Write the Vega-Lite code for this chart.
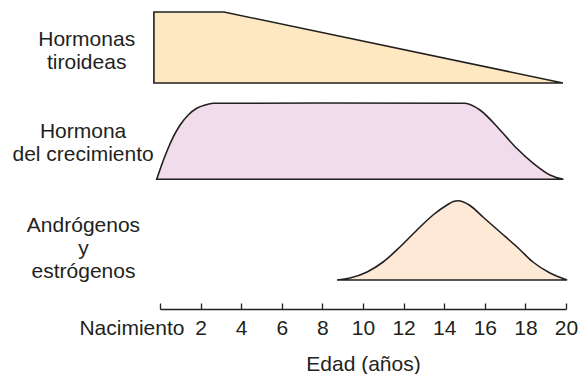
{
  "$schema": "https://vega.github.io/schema/vega-lite/v6.json",
  "autosize": "none",
  "width": 406,
  "height": 280,
  "padding": {"left": 160, "top": 0, "right": 19, "bottom": 94},
  "background": "white",
  "config": {"view": {"stroke": null}, "font": "Liberation Sans"},
  "datasets": {
    "tiroideas": [
      {"edad": -0.3, "nivel": 26.8, "base": 19.7},
      {"edad": 3.15, "nivel": 26.8, "base": 19.7},
      {"edad": 19.85, "nivel": 19.7, "base": 19.7}
    ],
    "crecimiento": [
      {"edad": -0.16, "nivel": 10.07, "base": 10.07},
      {"edad": 0.08, "nivel": 11.5, "base": 10.07},
      {"edad": 0.33, "nivel": 12.83, "base": 10.07},
      {"edad": 0.66, "nivel": 14.33, "base": 10.07},
      {"edad": 0.99, "nivel": 15.5, "base": 10.07},
      {"edad": 1.39, "nivel": 16.5, "base": 10.07},
      {"edad": 1.81, "nivel": 17.17, "base": 10.07},
      {"edad": 2.22, "nivel": 17.5, "base": 10.07},
      {"edad": 2.63, "nivel": 17.67, "base": 10.07},
      {"edad": 8.0, "nivel": 17.7, "base": 10.07},
      {"edad": 15.02, "nivel": 17.67, "base": 10.07},
      {"edad": 15.76, "nivel": 17.0, "base": 10.07},
      {"edad": 16.75, "nivel": 15.0, "base": 10.07},
      {"edad": 17.57, "nivel": 13.17, "base": 10.07},
      {"edad": 18.39, "nivel": 11.67, "base": 10.07},
      {"edad": 19.21, "nivel": 10.5, "base": 10.07},
      {"edad": 19.87, "nivel": 10.07, "base": 10.07}
    ],
    "sexuales": [
      {"edad": 8.72, "nivel": 0, "base": 0},
      {"edad": 9.36, "nivel": 0.2, "base": 0},
      {"edad": 10.2, "nivel": 0.8, "base": 0},
      {"edad": 10.99, "nivel": 1.8, "base": 0},
      {"edad": 11.82, "nivel": 3.3, "base": 0},
      {"edad": 12.66, "nivel": 5.0, "base": 0},
      {"edad": 13.45, "nivel": 6.5, "base": 0},
      {"edad": 14.14, "nivel": 7.5, "base": 0},
      {"edad": 14.45, "nivel": 7.85, "base": 0},
      {"edad": 14.68, "nivel": 7.92, "base": 0},
      {"edad": 14.95, "nivel": 7.8, "base": 0},
      {"edad": 15.27, "nivel": 7.45, "base": 0},
      {"edad": 15.91, "nivel": 6.3, "base": 0},
      {"edad": 16.75, "nivel": 4.8, "base": 0},
      {"edad": 17.59, "nivel": 3.3, "base": 0},
      {"edad": 18.37, "nivel": 1.8, "base": 0},
      {"edad": 19.21, "nivel": 0.7, "base": 0},
      {"edad": 20.05, "nivel": 0, "base": 0}
    ],
    "etiquetas": [
      {"edad": -3.61, "nivel": 23.4, "texto": "Hormonas|tiroideas"},
      {"edad": -3.79, "nivel": 14.2, "texto": "Hormona|del crecimiento"},
      {"edad": -3.77, "nivel": 4.8, "texto": "Andrógenos|y|estrógenos"}
    ]
  },
  "encoding": {
    "x": {
      "field": "edad",
      "type": "quantitative",
      "scale": {"domain": [0, 20], "nice": false, "zero": false},
      "axis": {
        "orient": "bottom",
        "offset": 29,
        "values": [0, 2, 4, 6, 8, 10, 12, 14, 16, 18, 20],
        "labelExpr": "datum.value == 0 ? 'Nacimiento' : datum.label",
        "labelAlign": {"condition": {"test": "datum.value == 0", "value": "right"}, "value": "center"},
        "labelOffset": {"condition": {"test": "datum.value == 0", "value": 24}, "value": 0},
        "labelFlush": false,
        "labelOverlap": false,
        "labelFont": "Liberation Sans",
        "labelFontSize": 21,
        "labelColor": "#231f20",
        "labelPadding": 14,
        "domainColor": "#231f20",
        "domainWidth": 1.6,
        "tickColor": "#231f20",
        "tickWidth": 1.3,
        "tickSize": -6,
        "grid": false,
        "title": "Edad (años)",
        "titleFont": "Liberation Sans",
        "titleFontSize": 21,
        "titleFontWeight": "normal",
        "titleColor": "#231f20",
        "titlePadding": 15
      }
    }
  },
  "layer": [
    {
      "data": {"name": "tiroideas"},
      "mark": {"type": "area", "interpolate": "linear", "fill": "#fee8c2", "stroke": "#231f20", "strokeWidth": 1.6, "clip": false},
      "encoding": {
        "y": {"field": "nivel", "type": "quantitative", "scale": {"domain": [0, 28], "nice": false}, "axis": null},
        "y2": {"field": "base"}
      }
    },
    {
      "data": {"name": "crecimiento"},
      "mark": {"type": "area", "interpolate": "monotone", "fill": "#f0dcea", "stroke": "#231f20", "strokeWidth": 1.6},
      "encoding": {
        "y": {"field": "nivel", "type": "quantitative", "scale": {"domain": [0, 28], "nice": false}, "axis": null},
        "y2": {"field": "base"}
      }
    },
    {
      "data": {"name": "sexuales"},
      "mark": {"type": "area", "interpolate": "monotone", "fill": "#fde9d5", "stroke": "#231f20", "strokeWidth": 1.6},
      "encoding": {
        "y": {"field": "nivel", "type": "quantitative", "scale": {"domain": [0, 28], "nice": false}, "axis": null},
        "y2": {"field": "base"}
      }
    },
    {
      "data": {"name": "etiquetas"},
      "mark": {"type": "text", "align": "center", "baseline": "alphabetic", "lineBreak": "|", "lineHeight": 23, "fontSize": 21, "font": "Liberation Sans", "color": "#231f20"},
      "encoding": {
        "y": {"field": "nivel", "type": "quantitative", "scale": {"domain": [0, 28], "nice": false}, "axis": null},
        "text": {"field": "texto", "type": "nominal"}
      }
    }
  ]
}
